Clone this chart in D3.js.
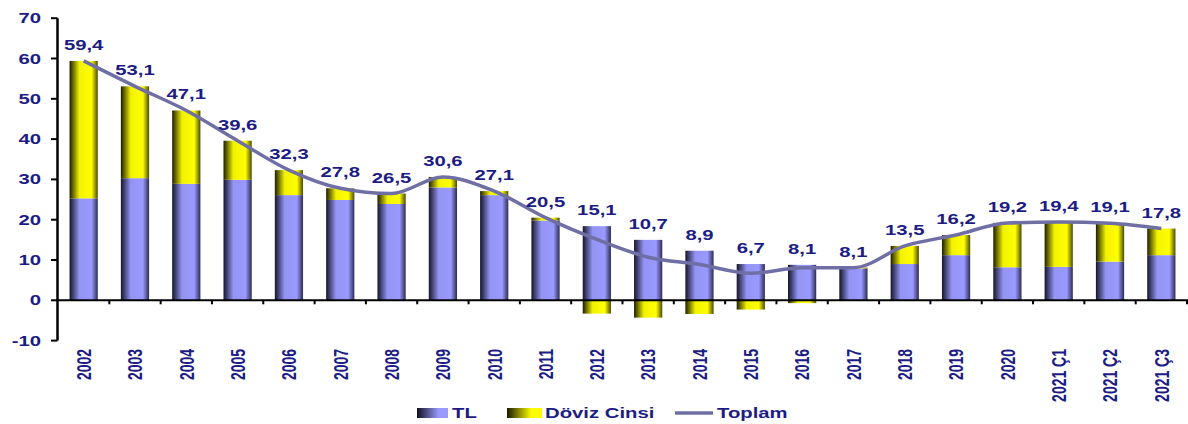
<!DOCTYPE html>
<html>
<head>
<meta charset="utf-8">
<script src="https://cdn.jsdelivr.net/npm/d3@7"></script>
<style>
  body { margin: 0; background: #fff; }
  svg { display: block; }
  text { font-family: Arial, "Liberation Sans", sans-serif; font-weight: bold; fill: #1c1c84; }
</style>
</head>
<body>
<svg id="chart" width="1188" height="424"></svg>
<script>
// data
const years = ['2002', '2003', '2004', '2005', '2006', '2007', '2008', '2009', '2010', '2011',
  '2012', '2013', '2014', '2015', '2016', '2017', '2018', '2019', '2020', '2021 Ç1', '2021 Ç2', '2021 Ç3'];
const tl = [25.3, 30.3, 28.9, 29.9, 26.1, 24.9, 23.9, 28.0, 26.1, 19.8,
  18.4, 15.0, 12.3, 9.0, 8.8, 7.9, 9.0, 11.2, 8.2, 8.3, 9.6, 11.2];
const doviz = [34.1, 22.8, 18.2, 9.7, 6.2, 2.9, 2.6, 2.6, 1.0, 0.7,
  -3.3, -4.3, -3.4, -2.3, -0.7, 0.2, 4.5, 5.0, 11.0, 11.1, 9.5, 6.6];
const toplam = [59.4, 53.1, 47.1, 39.6, 32.3, 27.8, 26.5, 30.6, 27.1, 20.5,
  15.1, 10.7, 8.9, 6.7, 8.1, 8.1, 13.5, 16.2, 19.2, 19.4, 19.1, 17.8];
const yTicks = [-10, 0, 10, 20, 30, 40, 50, 60, 70];

const STRETCH = 1.45; // reference is squashed wide, text looks stretched
const svg = d3.select('#chart');

const x = d3.scaleBand().domain(years).range([58, 1187]).paddingInner(0.45).paddingOuter(0.225);
const y = d3.scaleLinear().domain([-10, 70]).range([340.6, 18.2]);

// gradients for the cylinder-ish bars
const defs = svg.append('defs');
function gradient(id, stops) {
  const g = defs.append('linearGradient').attr('id', id)
    .attr('x1', '0%').attr('x2', '100%').attr('y1', '0%').attr('y2', '0%');
  stops.forEach(s => g.append('stop').attr('offset', s[0]).attr('stop-color', s[1]));
}
gradient('gTL', [['0%', '#15152a'], ['35%', '#9494f4'], ['78%', '#9999ff'], ['100%', '#2c2c55']]);
gradient('gDV', [['0%', '#1e1e00'], ['35%', '#f2f200'], ['78%', '#ffff00'], ['100%', '#4a4a00']]);
gradient('lTL', [['0%', '#101020'], ['70%', '#9999ff'], ['100%', '#9999ff']]);
gradient('lDV', [['0%', '#181800'], ['70%', '#ffff00'], ['100%', '#ffff00']]);

// bars
const rows = years.map((k, i) => ({ k, tl: tl[i], dv: doviz[i], tot: toplam[i] }));
const bars = svg.append('g');
bars.selectAll('.tl').data(rows).join('rect')
  .attr('class', 'tl')
  .attr('x', d => x(d.k)).attr('width', x.bandwidth())
  .attr('y', d => y(d.tl)).attr('height', d => y(0) - y(d.tl))
  .attr('fill', 'url(#gTL)');
bars.selectAll('.dv').data(rows).join('rect')
  .attr('class', 'dv')
  .attr('x', d => x(d.k)).attr('width', x.bandwidth())
  .attr('y', d => d.dv >= 0 ? y(d.tl + d.dv) : y(0))
  .attr('height', d => Math.abs(y(0) - y(Math.abs(d.dv)) ))
  .attr('fill', 'url(#gDV)');

// axes
const ax = svg.append('g');
ax.append('line').attr('x1', 57.5).attr('x2', 57.5).attr('y1', y(70)).attr('y2', y(-10))
  .attr('stroke', '#000').attr('stroke-width', 2.5);
ax.selectAll('.yt').data(yTicks).join('line')
  .attr('x1', 51).attr('x2', 57.5).attr('y1', d => y(d)).attr('y2', d => y(d))
  .attr('stroke', '#000').attr('stroke-width', 2);
ax.append('line').attr('x1', 57).attr('x2', 1188).attr('y1', y(0)).attr('y2', y(0))
  .attr('stroke', '#000').attr('stroke-width', 2);
ax.selectAll('.xt').data(years.slice(1).concat(['end'])).join('line')
  .attr('x1', (d, i) => x(years[i]) + x.step() - (x.step() - x.bandwidth()) / 2)
  .attr('x2', (d, i) => x(years[i]) + x.step() - (x.step() - x.bandwidth()) / 2)
  .attr('y1', y(0)).attr('y2', y(0) + 4)
  .attr('stroke', '#000').attr('stroke-width', 2);

ax.selectAll('.yl').data(yTicks).join('g')
  .attr('transform', d => `translate(41,${y(d) + 5}) scale(${STRETCH},1)`)
  .append('text').attr('text-anchor', 'end').attr('font-size', 14).text(d => d);

ax.selectAll('.xl').data(years).join('g')
  .attr('transform', d => `translate(${x(d) + x.bandwidth() / 2},349) scale(${STRETCH},1) rotate(-90)`)
  .append('text').attr('text-anchor', 'end').attr('dy', '0.36em').attr('font-size', 14).text(d => d);

// total line
const line = d3.line()
  .x(d => x(d.k) + x.bandwidth() / 2)
  .y(d => y(d.tot))
  .curve(d3.curveMonotoneX);
svg.append('path').datum(rows)
  .attr('d', line).attr('fill', 'none')
  .attr('stroke', '#6f6fa6').attr('stroke-width', 3.5).attr('stroke-linejoin', 'round');

// value labels
svg.append('g').selectAll('g').data(rows).join('g')
  .attr('transform', d => `translate(${x(d.k) + x.bandwidth() / 2},${y(Math.max(d.tot, d.tl)) - 11}) scale(${STRETCH},1)`)
  .append('text').attr('text-anchor', 'middle').attr('font-size', 14)
  .text(d => d3.format('.1f')(d.tot).replace('.', ','));

// legend
const legend = svg.append('g');
legend.append('rect').attr('x', 417).attr('y', 408).attr('width', 31).attr('height', 10).attr('fill', 'url(#lTL)');
legend.append('g').attr('transform', `translate(452,418) scale(${STRETCH},1)`)
  .append('text').attr('font-size', 14).text('TL');
legend.append('rect').attr('x', 507).attr('y', 408).attr('width', 35).attr('height', 10).attr('fill', 'url(#lDV)');
legend.append('g').attr('transform', `translate(545,418) scale(${STRETCH},1)`)
  .append('text').attr('font-size', 14).text('Döviz Cinsi');
legend.append('line').attr('x1', 675).attr('x2', 713).attr('y1', 413).attr('y2', 413)
  .attr('stroke', '#6f6fa6').attr('stroke-width', 3.5);
legend.append('g').attr('transform', `translate(717,418) scale(${STRETCH},1)`)
  .append('text').attr('font-size', 14).text('Toplam');
</script>
</body>
</html>
